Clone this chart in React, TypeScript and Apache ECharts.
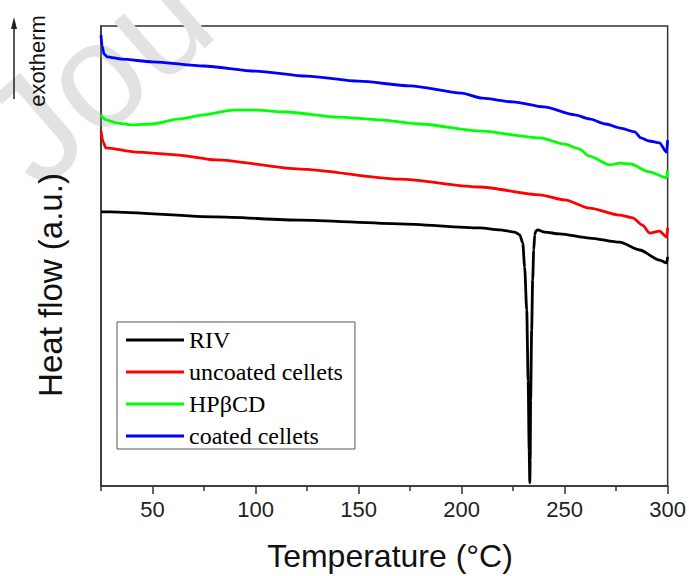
import React, { useEffect, useRef } from "react";
import * as echarts from "echarts";

// Axis ticks
const xMajorTicks = [50, 100, 150, 200, 250, 300];
const xMinorTicks = [25, 75, 125, 175, 225, 275];

// Series names
const seriesNames = ["RIV", "uncoated cellets", "HPβCD", "coated cellets"];
const seriesColors = ["#000000", "#ff0000", "#00ff00", "#0000ff"];

// RIV (black)
const rivT = [25, 29.4, 80.8, 121.5, 170, 208.8, 218.5, 225.8, 228.2, 229.7, 230.6, 231.6, 232.3, 232.8, 233.1, 233.3, 233.5, 234, 234.5, 235, 235.5, 236, 236.9, 240.3, 247.6, 262.1, 276.7, 286.4, 296.1, 299.5, 300];
const rivV = [59.6, 59.6, 58.5, 57.8, 57.0, 56.1, 55.7, 55.2, 54.6, 52.8, 47.6, 38.3, 23.0, 7.8, 0.7, 5.7, 18.7, 33.9, 44.8, 51.3, 54.6, 55.4, 55.7, 55.2, 54.8, 53.9, 53.0, 51.3, 49.1, 48.5, 49.8];

// uncoated cellets (red)
const uncT = [25, 26, 27.4, 42, 61.4, 80.8, 121.5, 170, 208.8, 237.9, 250, 262.1, 276.7, 283, 287.8, 291.2, 296.1, 299.5, 300];
const uncV = [77.2, 74.8, 73.5, 72.6, 72.0, 70.9, 68.9, 66.7, 65.0, 63.3, 62.2, 60.4, 58.9, 58.3, 56.7, 55.0, 55.4, 54.1, 56.1];

// HPβCD (green)
const hpT = [25, 26, 27.5, 33, 40, 50, 63, 75, 89, 100, 115, 140, 160, 180, 208, 238, 250, 257, 262, 272, 277, 282, 291, 299.5, 300];
const hpV = [80.7, 80.0, 79.6, 78.9, 78.5, 78.7, 79.8, 80.7, 81.7, 81.7, 81.3, 80.2, 79.6, 78.7, 77.2, 75.7, 74.3, 73.3, 71.7, 69.8, 70.2, 70.0, 68.3, 67.0, 68.7];

// coated cellets (blue)
const coatT = [25, 25.5, 26.5, 28, 35, 50, 75, 100, 125, 150, 175, 200, 210, 225, 240, 255, 262, 270, 277, 284, 287, 291, 296, 299.5, 300];
const coatV = [98.0, 95.7, 93.9, 93.3, 92.8, 92.2, 91.3, 90.2, 89.1, 88.0, 87.0, 85.4, 84.3, 83.5, 82.4, 80.7, 79.8, 78.7, 77.8, 77.0, 75.7, 75.0, 74.6, 72.6, 75.2];

const zip = (t: number[], v: number[]) => t.map((x, i) => [x, v[i]]);
const seriesData = [zip(rivT, rivV), zip(uncT, uncV), zip(hpT, hpV), zip(coatT, coatV)];

export default function App() {
  const ref = useRef<HTMLDivElement>(null);
  useEffect(() => {
    if (!ref.current) return;
    const chart = echarts.init(ref.current, null, { renderer: "svg" });
    const axisColor = "#333";
    chart.setOption({
      animation: false,
      backgroundColor: "#ffffff",
      grid: {
        left: 101,
        right: 21,
        top: 26,
        bottom: 90,
        show: true,
        borderColor: axisColor,
        borderWidth: 1.5,
        containLabel: false,
      },
      xAxis: [
        {
          type: "value",
          min: 25,
          max: 300,
          position: "bottom",
          axisLine: { show: true, onZero: false, lineStyle: { color: axisColor, width: 1.5 } },
          axisTick: { show: true, customValues: xMajorTicks, length: 8, lineStyle: { color: axisColor, width: 1.5 } },
          axisLabel: {
            show: true,
            customValues: xMajorTicks,
            fontSize: 22,
            color: "#222",
            margin: 12,
            fontFamily: "Liberation Sans, Arial, sans-serif",
          },
          splitLine: { show: false },
        },
        {
          type: "value",
          min: 25,
          max: 300,
          position: "bottom",
          axisLine: { show: false, onZero: false },
          axisTick: { show: true, customValues: xMinorTicks, length: 5, lineStyle: { color: axisColor, width: 1.5 } },
          axisLabel: { show: false },
          splitLine: { show: false },
        },
      ],
      yAxis: {
        type: "value",
        min: 0,
        max: 100,
        axisLine: { show: true, onZero: false, lineStyle: { color: axisColor, width: 1.5 } },
        axisTick: { show: false },
        axisLabel: { show: false },
        splitLine: { show: false },
      },
      legend: {
        orient: "vertical",
        left: 117,
        top: 322,
        data: seriesNames,
        icon: "rect",
        itemWidth: 58,
        itemHeight: 3,
        itemGap: 8,
        padding: [6, 12, 1, 9],
        borderColor: "#555",
        borderWidth: 1,
        borderRadius: 0,
        textStyle: {
          fontFamily: "Liberation Serif, Times New Roman, serif",
          fontSize: 24,
          color: "#000",
        },
      },
      series: seriesNames.map((name, i) => ({
        name,
        type: "line",
        xAxisIndex: 0,
        data: seriesData[i],
        showSymbol: false,
        symbol: "none",
        smooth: 0.25,
        smoothMonotone: "x",
        itemStyle: { color: seriesColors[i] },
        lineStyle: { color: seriesColors[i], width: 2.8 },
        z: 3 + i,
      })),
      graphic: [
        {
          type: "text",
          z: 0,
          x: 55,
          y: 210,
          rotation: 0.72,
          silent: true,
          style: {
            text: "Jou",
            fontSize: 150,
            fontFamily: "Liberation Sans, Arial, sans-serif",
            fill: "#e2e2e2",
            textAlign: "left",
            textVerticalAlign: "bottom",
          },
        },
        {
          type: "text",
          x: 390,
          y: 556,
          style: {
            text: "Temperature (°C)",
            fontSize: 32,
            fontFamily: "Liberation Sans, Arial, sans-serif",
            fill: "#111",
            textAlign: "center",
            textVerticalAlign: "middle",
          },
        },
        {
          type: "text",
          x: 50,
          y: 285,
          rotation: Math.PI / 2,
          style: {
            text: "Heat flow (a.u.)",
            fontSize: 33,
            fontFamily: "Liberation Sans, Arial, sans-serif",
            fill: "#111",
            textAlign: "center",
            textVerticalAlign: "middle",
          },
        },
        {
          type: "text",
          x: 37,
          y: 61,
          rotation: Math.PI / 2,
          style: {
            text: "exotherm",
            fontSize: 22,
            fontFamily: "Liberation Sans, Arial, sans-serif",
            fill: "#111",
            textAlign: "center",
            textVerticalAlign: "middle",
          },
        },
        {
          type: "line",
          shape: { x1: 14, y1: 99, x2: 14, y2: 26 },
          style: { stroke: "#222", lineWidth: 1.5 },
        },
        {
          type: "polygon",
          shape: { points: [[14, 17], [11, 29], [17, 29]] },
          style: { fill: "#222" },
        },
      ],
    });
    return () => chart.dispose();
  }, []);
  return (
    <div
      ref={ref}
      style={{ position: "fixed", left: 0, top: 0, width: 689, height: 576, background: "#fff" }}
    />
  );
}
